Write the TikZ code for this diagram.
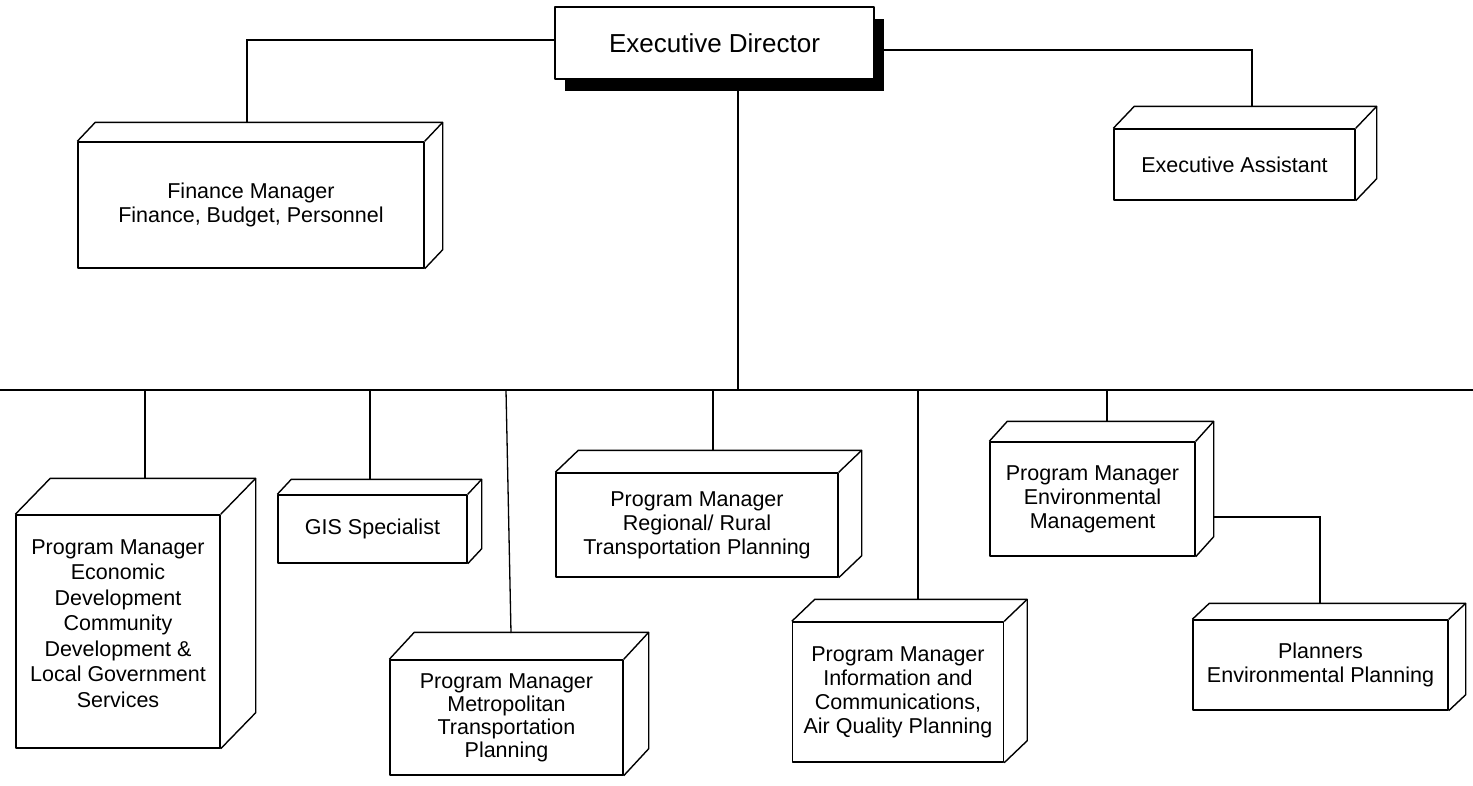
\documentclass[tikz,border=0pt]{standalone}
\usepackage{fontspec}
\setmainfont{Liberation Sans}
\usetikzlibrary{calc,shadows}
\tikzset{
  boxline/.style={line width=1.4pt, line join=round},
  box/.style={draw, boxline, fill=white, inner sep=0pt, align=center,
              font=\fontsize{21.5}{24}\selectfont},
  lbl/.style={inner sep=0pt, align=center, font=\fontsize{21.5}{24}\selectfont},
  conn/.style={line width=1.3pt},
}
\newcommand\boxdepth[3]{%
  \draw[boxline] (#1.north west) -- ++(#2,#3) -- ($(#1.north east)+(#2,#3)$)
     -- ($(#1.south east)+(#2,#3)$) -- (#1.south east);
  \draw[boxline] (#1.north east) -- ++(#2,#3);}
\begin{document}
\begin{tikzpicture}[x=1pt,y=-1pt]
\useasboundingbox (0,0) rectangle (1473,785);
% top
\node[box, minimum width=319pt, minimum height=72pt,
      drop shadow={shadow xshift=10pt, shadow yshift=-12pt, fill=black, opacity=1},
      font=\fontsize{26}{30}\selectfont] (ED) at (714.5,43) {Executive Director};
\node[box, minimum width=346pt, minimum height=126pt] (fin) at (251,205)
  {Finance Manager\\Finance, Budget, Personnel};
\boxdepth{fin}{18}{-19}
\node[box, minimum width=241pt, minimum height=71pt] (ea) at (1234.5,164.5)
  {Executive Assistant};
\boxdepth{ea}{21}{-22}
% bottom row
\node[box, minimum width=204pt, minimum height=233pt] (econ) at (118,631.5) {};
\node[lbl, font=\fontsize{21.5}{25.5}\selectfont] (econL) at ([yshift=8pt]econ.center)
  {Program Manager\\Economic\\Development\\Community\\Development \&\\Local Government\\Services};
\boxdepth{econ}{35}{-36}
\node[box, minimum width=189pt, minimum height=68pt] (gis) at (372.5,529)
  {GIS Specialist};
\boxdepth{gis}{14}{-15}
\node[box, minimum width=233pt, minimum height=115pt,
      font=\fontsize{21.5}{23}\selectfont] (met) at (506.5,717.5)
  {Program Manager\\Metropolitan\\Transportation\\Planning};
\boxdepth{met}{25}{-27}
\node[box, minimum width=282pt, minimum height=104pt] (reg) at (697,525)
  {Program Manager\\Regional/ Rural\\Transportation Planning};
\boxdepth{reg}{23}{-22}
\node[box, minimum width=211pt, minimum height=140pt] (inf) at (898,692)
  {Program Manager\\Information and\\Communications,\\Air Quality Planning};
\boxdepth{inf}{23}{-22}
\node[box, minimum width=205pt, minimum height=114pt] (env) at (1092.5,499)
  {Program Manager\\Environmental\\Management};
\boxdepth{env}{18}{-20}
\node[box, minimum width=255pt, minimum height=90pt] (pl) at (1320.5,665)
  {Planners\\Environmental Planning};
\boxdepth{pl}{17}{-16}
% connector points
\coordinate (finT) at (247,123);
\coordinate (eaT) at (1252,107);
\coordinate (busL) at (0,390);
\coordinate (busR) at (1473,390);
\coordinate (busC) at (738,390);
\coordinate (econT) at (145,479);
\coordinate (gisT) at (370,480);
\coordinate (metB) at (506,390);
\coordinate (metT) at (511,633);
\coordinate (regT) at (713,451);
\coordinate (infT) at (918,600);
\coordinate (envT) at (1107,422);
\coordinate (envR) at (1213,517);
\coordinate (plT) at (1320,604);
% connectors
\draw[conn] (finT) |- ([yshift=3pt]ED.west);
\draw[conn] (eaT) |- ([yshift=-7pt]ED.east);
\draw[conn] (ED.south -| busC) -- (busC);
\draw[conn] (busL) -- (busR);
\foreach \c in {econT,gisT,regT,infT,envT}
  \draw[conn] (\c |- busL) -- (\c);
\draw[conn] (metB) -- (metT);
\draw[conn] (envR) -| (plT);
\end{tikzpicture}
\end{document}
